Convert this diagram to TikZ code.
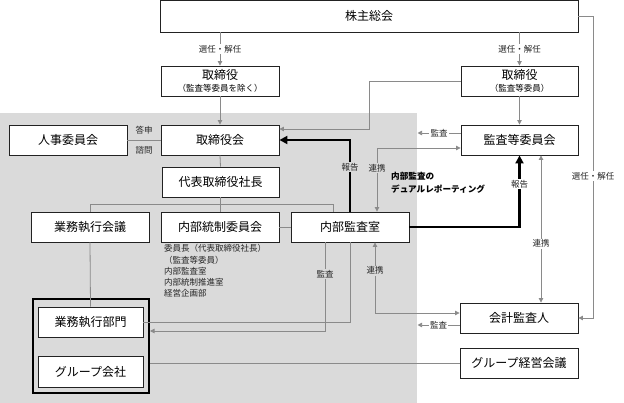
\documentclass[tikz,border=0pt]{standalone}
\usepackage{fontspec}
\setmainfont{Noto Sans CJK JP}
\usetikzlibrary{arrows.meta}
\definecolor{linegray}{HTML}{8A8A8A}
\definecolor{bggray}{HTML}{DADADA}
\definecolor{boxline}{HTML}{222222}
\begin{document}
\begin{tikzpicture}[x=1pt,y=-1pt,
  box/.style={draw=boxline, fill=white, line width=0.9pt, inner sep=0pt,
    minimum width=118pt, minimum height=30pt,
    font=\fontsize{12}{14}\selectfont, align=center},
  conn/.style={draw=linegray, line width=0.8pt},
  tipend/.style={-{Triangle[length=4.5pt,width=4.5pt]}},
  tipboth/.style={{Triangle[length=4.5pt,width=4.5pt]}-{Triangle[length=4.5pt,width=4.5pt]}},
  thickarr/.style={draw=black, line width=2.6pt, -{Triangle[length=8pt,width=8pt]}},
  lbl/.style={font=\fontsize{8.5}{10}\selectfont, inner sep=1.2pt, text=black!85},
  lblg/.style={lbl, fill=bggray},
  lblw/.style={lbl, fill=white}
]
\useasboundingbox (0,0) rectangle (624,403);
\fill[bggray] (0,113) rectangle (417,403);

% boxes
\node[box, minimum width=418pt, minimum height=31.5pt] (sh) at (369,16.25) {株主総会};
\node[box] (tb1) at (220,81) {取締役\\[-2pt]{\fontsize{8.5}{10}\selectfont （監査等委員を除く）}};
\node[box, minimum width=117pt] (tb2) at (519.5,81) {取締役\\[-2pt]{\fontsize{8.5}{10}\selectfont （監査等委員）}};
\node[box] (jinji) at (68,140) {人事委員会};
\node[box] (tbk) at (220,140) {取締役会};
\node[box, minimum width=117pt] (dh) at (220.5,182) {代表取締役社長};
\node[box, minimum width=117pt] (kiin) at (519.5,140) {監査等委員会};
\node[box] (gkai) at (90,227) {業務執行会議};
\node[box] (nt) at (220,227) {内部統制委員会};
\node[box] (nk) at (350,227) {内部監査室};
\node[draw=black, line width=2pt, minimum width=116pt, minimum height=94pt, inner sep=0pt] (outer) at (91,346) {};
\node[box, minimum width=105pt] (gb) at (90.5,322) {業務執行部門};
\node[box, minimum width=105pt, minimum height=31pt] (gks) at (90.5,371.5) {グループ会社};
\node[box] (kaikei) at (519,318) {会計監査人};
\node[box] (gkk) at (519,363) {グループ経営会議};

% text blocks
\node[anchor=north west, align=left, inner sep=0pt, font=\fontsize{8.5}{11.2}\selectfont, text=black!85] (members) at (164,244.5)
  {委員長（代表取締役社長）\\（監査等委員）\\内部監査室\\内部統制推進室\\経営企画部};
\node[anchor=north west, align=left, inner sep=0pt, font=\fontsize{8.6}{12.5}\selectfont\bfseries] (dual) at (391,172)
  {内部監査の\\デュアルレポーティング};

% coordinates
\coordinate (r1) at (593,16.25);
\coordinate (b1) at (369,81);
\coordinate (b2) at (369,129);
\coordinate (h1) at (90,204);
\coordinate (h2) at (333,204);
\coordinate (k1) at (377,148);

% connectors
\draw[conn, tipend] (sh.south -| tb1) -- node[lblw]{選任・解任} (tb1.north);
\draw[conn, tipend] (sh.south -| tb2) -- node[lblw]{選任・解任} (tb2.north);
\draw[conn, tipend] (sh.east) -- (r1) -- node[lblw, pos=0.53]{選任・解任} (r1 |- kaikei.east) -- (kaikei.east);
\draw[conn, tipend] (tb1.south) -- (tbk.north);
\draw[conn, tipend] (tb2.south) -- (kiin.north);
\draw[conn, tipend] (tb2.west) -- (b1) -- (b2) -- (b2 -| tbk.east);
\draw[conn] (jinji.east) -- (tbk.west);
\node[lbl] (toshin) at (144,130) {答申};
\node[lbl] (shimon) at (144,150) {諮問};
\draw[conn] (tbk.south) -- (dh.north);
\draw[conn] (dh.south -| nt.north) -- (nt.north);
\draw[conn] (gkai.north) -- (h1) -- (h2) -- (h2 |- nk.north);
\draw[conn] (nt.east) -- (nk.west);
\draw[conn] (gkai.south) -- (gb.north);
% 監査 from kansa iinkai
\draw[conn, tipend] ([yshift=7pt]kiin.west) -- node[lblw]{監査} ++(-43,0);
% 連携 nk <-> kiin
\draw[conn, tipboth] (nk.north -| k1) -- node[lblg, pos=0.68]{連携} (k1) -- (k1 -| kiin.west);
% thick reports
\draw[thickarr] (nk.north) |- node[lblg, pos=0.31]{報告} (tbk.east);
\draw[thickarr] (nk.east) -| node[lblw, pos=0.8]{報告} (kiin.south);
% kiin <-> kaikei
\draw[conn, tipboth] ([xshift=21.5pt]kiin.south) -- node[lblw, pos=0.6]{連携} ([xshift=22pt]kaikei.north);
% nk <-> kaikei
\draw[conn, tipboth] ([xshift=25pt]nk.south) |- node[lblg, pos=0.2]{連携} ([yshift=5pt]kaikei.west);
% kaikei 監査
\draw[conn, tipend] ([yshift=-7pt]kaikei.west) -- node[lblw]{監査} ++(-42,0);
% nk -> gyomu bumon 監査
\draw[conn, tipend] ([xshift=-25pt]nk.south) |- node[lblg, pos=0.18]{監査} ([yshift=-9pt]gb.east -| outer.east);
\draw[conn] (nk.south) |- (gb.east);
% group keiei
\draw[conn] (gkk.west) -- (gkk.west -| outer.east);
\end{tikzpicture}
\end{document}
